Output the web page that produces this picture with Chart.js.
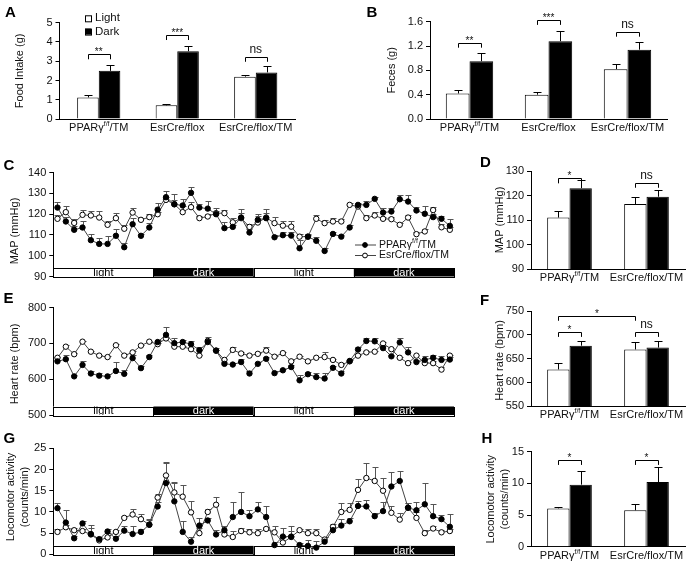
<!DOCTYPE html>
<html><head><meta charset="utf-8">
<script src="https://cdn.jsdelivr.net/npm/chart.js@4.4.1/dist/chart.umd.min.js"></script>
<style>html,body{margin:0;padding:0;background:#fff;}#wrap{position:relative;width:689px;height:564px;overflow:hidden;background:#fff;}canvas{position:absolute;left:0;top:0;}</style>
</head><body><div id="wrap"></div>
<script>
// ================= DATA =================
const groups3 = ['PPARγ^f/f^/TM', 'EsrCre/flox', 'EsrCre/flox/TM'];
const groups2 = ['PPARγ^f/f^/TM', 'EsrCre/flox/TM'];
const barSeries = ['Light', 'Dark'];
const lineSeries = ['PPARγ^f/f^/TM', 'EsrCre/flox/TM'];

// A: food intake (g)
const foodLight = [1.12, 0.71, 2.20];
const foodLightErr = [0.12, 0.05, 0.11];
const foodDark = [2.50, 3.52, 2.42];
const foodDarkErr = [0.29, 0.27, 0.32];
const foodSig = ['**', '***', 'ns'];
const foodSigY = [3.36, 4.36, 3.23];

// B: feces (g)
const fecesLight = [0.42, 0.40, 0.82];
const fecesLightErr = [0.05, 0.05, 0.08];
const fecesDark = [0.95, 1.28, 1.14];
const fecesDarkErr = [0.14, 0.17, 0.12];
const fecesSig = ['**', '***', 'ns'];
const fecesSigY = [1.255, 1.63, 1.436];

// time axis (hours) and light/dark phases
const hours = [1,2,3,4,5,6,7,8,9,10,11,12,13,14,15,16,17,18,19,20,21,22,23,24,
               25,26,27,28,29,30,31,32,33,34,35,36,37,38,39,40,41,42,43,44,45,46,47,48];
const phases = ['light', 'dark', 'light', 'dark'];
const hoursPerPhase = 12;

// C: MAP (mmHg)
const mapPPAR = [123.2,116.5,112.5,113.6,107.5,105.7,105.7,109.6,104.1,115.2,109.6,113.6,
                 122.2,128.2,124.8,124.2,130.3,123.2,122.7,120.0,113.3,113.9,118.4,111.2,
                 117.3,118.1,108.9,109.9,109.7,103.6,109.2,107.2,102.3,110.5,109.2,113.6,
                 124.5,124.5,127.4,120.8,121.3,127.2,126.1,121.8,120.2,118.6,117.8,114.4];
const mapPPARErr = [2.5,2,2,3,3,3,4,3.5,2,3,1,2, 3,3,2,3,3,1.5,3.5,1.5,3,1,4,1.5,
                    3,2.5,1,1.5,1.5,4,1,2,1.5,1,1,1, 1,2,1,2,1.5,2,3,1.5,4,1.5,1.5,3.5];
const mapEsr = [117.8,121.0,115.8,119.7,119.4,118.4,114.9,118.1,113.0,120.8,117.3,118.6,
                120.0,126.9,124.8,121.0,123.4,118.1,118.9,120.5,120.5,116.1,118.1,113.9,
                116.0,118.4,115.7,114.5,114.0,109.2,109.2,117.8,115.7,116.5,116.5,124.5,
                123.7,118.1,119.4,117.8,117.6,114.9,118.4,110.4,111.7,122.0,113.7,112.5];
const mapEsrErr = [2,3,2,2.5,2,3,2,2.5,2,2,1,1.5, 1,1.5,5,3,2.5,1,1,2.5,1.5,2,2.5,1.5,
                   3,4,3,2,2.5,1.5,1.5,2,1.5,1.5,1,1, 1,1.5,1.5,1,1,1,1,1,1,1.5,1.5,1.5];

// D: MAP bars
const mapBarLight = [111.0, 116.5];
const mapBarLightErr = [2.8, 2.9];
const mapBarDark = [123.0, 119.5];
const mapBarDarkErr = [3.2, 2.6];
const mapSig = ['*', 'ns'];
const mapSigY = [127.0, 125.2];

// E: heart rate (bpm)
const hrPPAR = [650,656,608,640,616,610,608,623,615,659,631,662,
                704,724,701,704,698,681,704,680,643,641,648,616,
                643,657,617,625,634,597,614,606,602,632,616,651,
                683,707,706,687,664,703,675,648,654,660,654,655];
const hrPPARErr = [3,13,3,10,6,8,8,25,10,8,5,6, 6,22,14,6,8,8,8,8,6,4,8,6,
                   6,4,5,5,6,15,5,12,16,5,6,5, 8,8,8,6,5,12,14,6,12,8,10,6];
const hrEsr = [660,691,670,705,677,666,662,695,666,675,694,705,
               698,714,691,691,684,666,707,680,654,682,672,666,
               671,680,663,673,650,663,650,660,662,654,640,650,
               666,675,677,700,684,660,645,666,645,645,627,666];
const hrEsrErr = [3,5,3,3,3,3,3,3,5,3,3,3, 3,3,3,3,3,3,10,3,3,8,3,3,
                  3,10,3,3,3,3,3,3,15,3,3,3, 3,3,3,3,3,3,3,3,3,6,8,3];

// F: heart rate bars
const hrBarLight = [627, 669];
const hrBarLightErr = [14, 16];
const hrBarDark = [677, 673];
const hrBarDarkErr = [10, 14];
const hrSig = ['*', 'ns'];
const hrSigY = [706, 706];
const hrCrossSig = '*';
const hrCrossSigY = 740;

// G: locomotor activity (counts/min)
const locoPPAR = [10.9,7.5,3.8,7.3,4.8,3.6,5.4,3.7,5.6,4.8,5.3,7.0,
                  11.3,16.8,12.5,5.3,3.0,6.8,8.0,4.7,5.7,8.8,10.0,9.0,
                  10.6,8.8,2.2,4.2,4.2,2.2,2.0,1.6,3.0,5.7,6.8,7.8,
                  11.4,11.3,9.0,10.2,16.0,17.3,11.0,10.4,11.8,9.0,8.3,6.5];
const locoPPARErr = [1.3,3,0.5,0.5,1.5,0.5,0.5,0.7,1.2,2,0.7,1, 1,5,4.5,2.5,1,1.8,0.5,1,1,3.5,4.8,1.5,
                     1.8,2.7,0.8,2,2.5,0.5,1.5,1.5,1,0.8,1.5,0.7, 1.3,1.6,0.8,2.2,3.5,2.3,1,2,5,2.8,1.1,3];
const locoEsr = [5.3,6.4,5.7,5.5,4.7,3.3,4.0,5.3,8.6,9.4,8.3,7.0,
                 13.4,18.6,14.6,13.6,9.9,5.0,10.0,11.7,4.7,4.1,5.5,5.2,
                 5.0,6.0,5.2,2.8,4.1,5.7,5.0,5.0,3.5,6.5,10.0,10.5,
                 15.2,18.0,17.3,15.0,9.8,8.2,11.0,8.6,5.0,6.1,5.2,5.5];
const locoEsrErr = [0.8,0.5,0.5,0.5,2.3,0.5,1,0.5,0.5,1.3,1.3,1.3, 0.8,3,2.3,2.8,2.8,1.3,0.8,1.8,0.6,1.3,0.8,0.7,
                    1.1,0.4,1.4,1.4,1.4,0.3,0.9,1,0.7,0.6,2.2,1.5, 2.5,3.5,3.3,3,1.7,1.5,1.2,1.5,0.8,0.7,0.5,0.5];

// H: locomotor bars
const locoBarLight = [6.05, 5.75];
const locoBarLightErr = [0.25, 0.95];
const locoBarDark = [9.8, 10.2];
const locoBarDarkErr = [2.2, 2.4];
const locoSig = ['*', '*'];
const locoSigY = [13.7, 13.7];

// ================= RENDERING =================
const W = 689, H = 564;
const FONT = '"Liberation Sans", Arial, Helvetica, sans-serif';
const INK = '#111';

function makeCanvas() {
  const c = document.createElement('canvas');
  c.width = W; c.height = H;
  document.getElementById('wrap').appendChild(c);
  return c.getContext('2d');
}

function drawRich(ctx, text, x, y, size, align, color) {
  const parts = text.split('^');
  const supSize = Math.round(size * 0.62);
  ctx.save();
  ctx.fillStyle = color || INK;
  ctx.textBaseline = 'middle';
  ctx.textAlign = 'left';
  const widths = parts.map((p, i) => { ctx.font = (i % 2 ? supSize : size) + 'px ' + FONT; return ctx.measureText(p).width; });
  const total = widths.reduce((a, b) => a + b, 0);
  let cx = align === 'center' ? x - total / 2 : (align === 'right' ? x - total : x);
  parts.forEach((p, i) => {
    ctx.font = (i % 2 ? supSize : size) + 'px ' + FONT;
    ctx.fillText(p, cx, i % 2 ? y - size * 0.33 : y);
    cx += widths[i];
  });
  ctx.restore();
}

function drawYTitle(ctx, lines, x, y, size) {
  ctx.save();
  ctx.translate(x, y);
  ctx.rotate(-Math.PI / 2);
  ctx.fillStyle = INK;
  ctx.font = size + 'px ' + FONT;
  ctx.textAlign = 'center';
  ctx.textBaseline = 'middle';
  const lh = size * 1.25;
  lines.forEach((l, i) => ctx.fillText(l, 0, (i - (lines.length - 1) / 2) * lh));
  ctx.restore();
}

function drawLetter(ctx, letter, x, y) {
  ctx.save();
  ctx.fillStyle = '#000';
  ctx.font = 'bold 15px ' + FONT;
  ctx.textAlign = 'left';
  ctx.textBaseline = 'alphabetic';
  ctx.fillText(letter, x, y);
  ctx.restore();
}

function drawBracket(ctx, x1, x2, y, label) {
  ctx.save();
  ctx.strokeStyle = '#000';
  ctx.lineWidth = 1;
  ctx.beginPath();
  ctx.moveTo(Math.round(x1) + 0.5, y + 5);
  ctx.lineTo(Math.round(x1) + 0.5, Math.round(y) + 0.5);
  ctx.lineTo(Math.round(x2) + 0.5, Math.round(y) + 0.5);
  ctx.lineTo(Math.round(x2) + 0.5, y + 5);
  ctx.stroke();
  ctx.fillStyle = INK;
  ctx.textAlign = 'center';
  ctx.textBaseline = 'alphabetic';
  if (label === 'ns') {
    ctx.font = '12px ' + FONT;
    ctx.fillText(label, (x1 + x2) / 2, y - 4);
  } else {
    ctx.font = '10px ' + FONT;
    ctx.fillText(label, (x1 + x2) / 2, y + 1);
  }
  ctx.restore();
}

function yScaleOpts(o) {
  return {
    min: o.min, max: o.max,
    ticks: { stepSize: o.step, color: INK, font: { family: FONT, size: 11 }, padding: 3,
             callback: (v) => o.fmt ? o.fmt(v) : String(v) },
    grid: { display: true, drawOnChartArea: false, drawTicks: true, tickLength: 4, color: '#000', lineWidth: 1 },
    border: { display: true, color: '#000', width: 1 },
    afterFit(s) { s.width = 40; }
  };
}

function barPanel(o) {
  const ctx = makeCanvas();
  const deco = {
    id: 'deco' + o.letter,
    afterDatasetsDraw(chart) {
      const c = chart.ctx, ys = chart.scales.y;
      c.save();
      c.strokeStyle = '#000'; c.lineWidth = 1;
      chart.data.datasets.forEach((ds, di) => {
        const meta = chart.getDatasetMeta(di);
        meta.data.forEach((bar, i) => {
          const top = ys.getPixelForValue(ds.data[i] + ds.err[i]);
          const x = Math.round(bar.x) + 0.5;
          c.beginPath();
          c.moveTo(x, bar.y); c.lineTo(x, Math.round(top) + 0.5);
          c.moveTo(x - 4, Math.round(top) + 0.5); c.lineTo(x + 4, Math.round(top) + 0.5);
          c.stroke();
        });
      });
      c.restore();
    },
    afterDraw(chart) {
      const c = chart.ctx, ys = chart.scales.y, ca = chart.chartArea;
      const m0 = chart.getDatasetMeta(0), m1 = chart.getDatasetMeta(1);
      o.sig.forEach((s, i) => drawBracket(c, m0.data[i].x, m1.data[i].x, ys.getPixelForValue(o.sigY[i]), s));
      if (o.cross) drawBracket(c, m0.data[0].x, m0.data[1].x, ys.getPixelForValue(o.cross.y), o.cross.label);
      o.labels.forEach((l, i) => {
        const x = (m0.data[i].x + m1.data[i].x) / 2;
        drawRich(c, l, x, ca.bottom + 9, 11, 'center');
      });
      if (o.legend) {
        barSeries.forEach((name, i) => {
          const y = o.legend.y + i * 13.3;
          c.save();
          c.fillStyle = i === 0 ? '#fff' : '#000';
          c.strokeStyle = '#000'; c.lineWidth = 1;
          c.fillRect(o.legend.x, y - 3, 6, 6);
          c.strokeRect(o.legend.x + 0.5, y - 2.5, 6, 6);
          c.restore();
          drawRich(c, name, o.legend.x + 10, y, 11.5, 'left');
        });
      }
      drawYTitle(c, o.title, o.titleX, (ca.top + ca.bottom) / 2 + (o.titleDy || 0), 11);
      drawLetter(c, o.letter, o.letterPos[0], o.letterPos[1]);
    }
  };
  new Chart(ctx, {
    type: 'bar',
    data: {
      labels: o.labels.map(l => l.replace(/\^/g, '')),
      datasets: [
        { label: barSeries[0], data: o.light, err: o.lightErr, backgroundColor: '#fff', borderColor: '#000',
          borderWidth: 1, borderSkipped: 'start', categoryPercentage: o.cp, barPercentage: 1 },
        { label: barSeries[1], data: o.dark, err: o.darkErr, backgroundColor: '#000', borderColor: '#000',
          borderWidth: 1, borderSkipped: 'start', categoryPercentage: o.cp, barPercentage: 1 }
      ]
    },
    options: {
      responsive: false, animation: false, devicePixelRatio: 1,
      layout: { padding: { left: o.area.l - 40, right: W - o.area.r, top: o.area.t, bottom: H - o.area.b } },
      plugins: { legend: { display: false }, tooltip: { enabled: false } },
      scales: {
        x: { ticks: { display: false }, grid: { display: false, drawTicks: false },
             border: { display: true, color: '#000', width: 1 }, afterFit(s) { s.height = 0; } },
        y: yScaleOpts(o)
      }
    },
    plugins: [deco]
  });
}

function linePanel(o) {
  const ctx = makeCanvas();
  const deco = {
    id: 'deco' + o.letter,
    beforeDatasetsDraw(chart) {
      const c = chart.ctx, xs = chart.scales.x, ys = chart.scales.y, ca = chart.chartArea;
      const step = (ca.right - ca.left) / hours.length;
      const bandH = 8.5;
      const y0 = ca.bottom - bandH;
      phases.forEach((ph, k) => {
        const xa = xs.getPixelForValue(k * hoursPerPhase) - step / 2;
        const xb = xs.getPixelForValue(k * hoursPerPhase + hoursPerPhase - 1) + step / 2;
        c.save();
        c.fillStyle = ph === 'dark' ? '#000' : '#fff';
        c.fillRect(xa, y0, xb - xa, bandH);
        c.strokeStyle = '#000'; c.lineWidth = 1;
        c.strokeRect(Math.round(xa) + 0.5, Math.round(y0) + 0.5, Math.round(xb - xa), Math.round(bandH));
        c.beginPath(); c.rect(xa, y0, xb - xa, bandH); c.clip();
        c.fillStyle = ph === 'dark' ? '#fff' : '#000';
        c.font = '11px ' + FONT;
        c.textAlign = 'center'; c.textBaseline = 'middle';
        c.fillText(ph, (xa + xb) / 2, y0 + bandH / 2 + 0.5);
        c.restore();
      });
      // error bars (upper only)
      c.save();
      c.strokeStyle = '#555'; c.lineWidth = 1;
      chart.data.datasets.forEach((ds, di) => {
        const meta = chart.getDatasetMeta(di);
        meta.data.forEach((pt, i) => {
          const top = Math.round(ys.getPixelForValue(ds.data[i] + ds.err[i])) + 0.5;
          const x = Math.round(pt.x) + 0.5;
          c.beginPath();
          c.moveTo(x, pt.y); c.lineTo(x, top);
          c.moveTo(x - 3, top); c.lineTo(x + 3, top);
          c.stroke();
        });
      });
      c.restore();
    },
    afterDraw(chart) {
      const c = chart.ctx;
      if (o.legend) {
        lineSeries.forEach((name, i) => {
          const y = o.legend.y + i * 10.5;
          c.save();
          c.strokeStyle = '#444'; c.lineWidth = 1;
          c.beginPath(); c.moveTo(o.legend.x, y); c.lineTo(o.legend.x + 21, y); c.stroke();
          c.beginPath(); c.arc(o.legend.x + 10, y, 2.4, 0, Math.PI * 2);
          c.fillStyle = i === 0 ? '#000' : '#fff'; c.fill();
          c.strokeStyle = '#000'; c.stroke();
          c.restore();
          drawRich(c, name, o.legend.x + 24, y, 10.5, 'left');
        });
      }
      drawYTitle(c, o.title, o.titleX, o.titleY, 11);
      drawLetter(c, o.letter, o.letterPos[0], o.letterPos[1]);
    }
  };
  const mk = (data, err, fill, name) => ({
    label: name, data, err, borderColor: '#444', borderWidth: 1, tension: 0, clip: false,
    pointRadius: 2.7, pointBackgroundColor: fill, pointBorderColor: '#000', pointBorderWidth: 1
  });
  new Chart(ctx, {
    type: 'line',
    data: { labels: hours, datasets: [mk(o.s1, o.s1Err, '#000', lineSeries[0]), mk(o.s2, o.s2Err, '#fff', lineSeries[1])] },
    options: {
      responsive: false, animation: false, devicePixelRatio: 1,
      layout: { padding: { left: o.area.l - 40, right: W - o.area.r, top: o.area.t, bottom: H - o.area.b } },
      plugins: { legend: { display: false }, tooltip: { enabled: false } },
      scales: {
        x: { type: 'category', offset: true, ticks: { display: false }, grid: { display: false, drawTicks: false },
             border: { display: false }, afterFit(s) { s.height = 0; } },
        y: yScaleOpts(o)
      }
    },
    plugins: [deco]
  });
}

// ---- Panels ----
barPanel({ letter: 'A', letterPos: [5, 16.5], area: { l: 59.5, r: 295, t: 22.7, b: 119 },
  labels: groups3, light: foodLight, lightErr: foodLightErr, dark: foodDark, darkErr: foodDarkErr,
  sig: foodSig, sigY: foodSigY, min: 0, max: 5, step: 1, cp: 0.55,
  title: ['Food Intake (g)'], titleX: 20, legend: { x: 85, y: 18.3 } });

barPanel({ letter: 'B', letterPos: [366.5, 16.5], area: { l: 430, r: 667, t: 21.7, b: 119 },
  labels: groups3, light: fecesLight, lightErr: fecesLightErr, dark: fecesDark, darkErr: fecesDarkErr,
  sig: fecesSig, sigY: fecesSigY, min: 0, max: 1.6, step: 0.4, cp: 0.6, fmt: v => v.toFixed(1),
  title: ['Feces (g)'], titleX: 391.5 });

linePanel({ letter: 'C', letterPos: [3.5, 170], area: { l: 53.3, r: 454, t: 172.7, b: 276.5 },
  s1: mapPPAR, s1Err: mapPPARErr, s2: mapEsr, s2Err: mapEsrErr, min: 90, max: 140, step: 10,
  title: ['MAP (mmHg)'], titleX: 15, titleY: 231, legend: { x: 355, y: 245 } });

barPanel({ letter: 'D', letterPos: [480, 166.5], area: { l: 531, r: 685, t: 171, b: 269 },
  labels: groups2, light: mapBarLight, lightErr: mapBarLightErr, dark: mapBarDark, darkErr: mapBarDarkErr,
  sig: mapSig, sigY: mapSigY, min: 90, max: 130, step: 10, cp: 0.58,
  title: ['MAP (mmHg)'], titleX: 500 });

linePanel({ letter: 'E', letterPos: [3.5, 303.3], area: { l: 53.3, r: 454, t: 307.7, b: 415 },
  s1: hrPPAR, s1Err: hrPPARErr, s2: hrEsr, s2Err: hrEsrErr, min: 500, max: 800, step: 100,
  title: ['Heart rate (bpm)'], titleX: 15, titleY: 364 });

barPanel({ letter: 'F', letterPos: [480, 305], area: { l: 531, r: 685, t: 311, b: 406 },
  labels: groups2, light: hrBarLight, lightErr: hrBarLightErr, dark: hrBarDark, darkErr: hrBarDarkErr,
  sig: hrSig, sigY: hrSigY, cross: { y: hrCrossSigY, label: hrCrossSig }, min: 550, max: 750, step: 50, cp: 0.58,
  title: ['Heart rate (bpm)'], titleX: 500, titleDy: 2 });

linePanel({ letter: 'G', letterPos: [3.5, 443.3], area: { l: 53.3, r: 454, t: 448.3, b: 555 },
  s1: locoPPAR, s1Err: locoPPARErr, s2: locoEsr, s2Err: locoEsrErr, min: 0, max: 25, step: 5,
  title: ['Locomotor activity', '(counts/min)'], titleX: 18, titleY: 497 });

barPanel({ letter: 'H', letterPos: [481.5, 442.5], area: { l: 531, r: 685, t: 451.7, b: 546.7 },
  labels: groups2, light: locoBarLight, lightErr: locoBarLightErr, dark: locoBarDark, darkErr: locoBarDarkErr,
  sig: locoSig, sigY: locoSigY, min: 0, max: 15, step: 5, cp: 0.58,
  title: ['Locomotor activity', '(counts/min)'], titleX: 498 });
</script>
</body></html>
